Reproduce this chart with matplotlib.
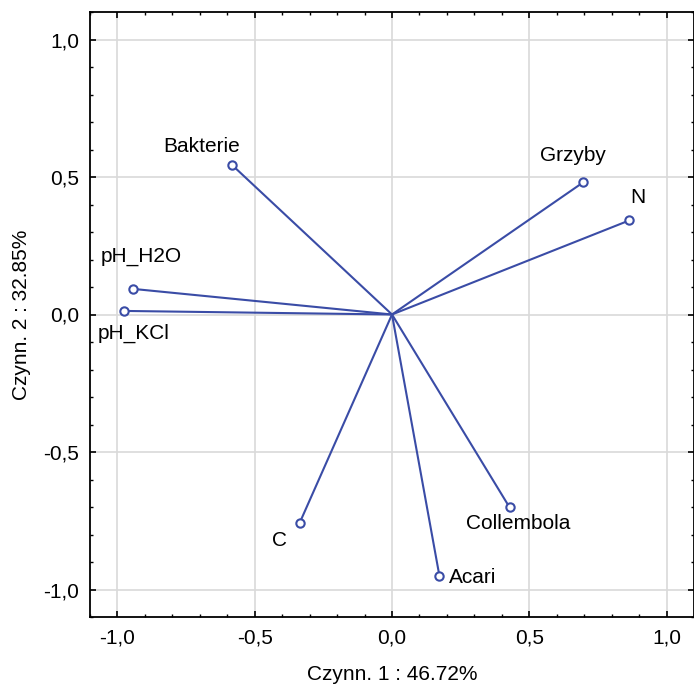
import matplotlib
matplotlib.use('Agg')
import matplotlib.pyplot as plt
from matplotlib.ticker import MultipleLocator, FuncFormatter

plt.rcParams['font.family'] = ['Liberation Sans', 'DejaVu Sans']

# loadings on the two factors
variables = ['Bakterie', 'Grzyby', 'N', 'pH_H2O', 'pH_KCl', 'C', 'Collembola', 'Acari']
fac1 = [-0.584, 0.697, 0.864, -0.942, -0.976, -0.336, 0.428, 0.173]
fac2 = [0.545, 0.481, 0.342, 0.093, 0.013, -0.757, -0.701, -0.952]

# label offsets in pixels (dx, dy)
offsets = {
    'Bakterie': (-30, 18),
    'Grzyby': (-10, 27),
    'N': (9, 23),
    'pH_H2O': (8, 32),
    'pH_KCl': (10, -22),
    'C': (-20, -18),
    'Collembola': (9, -16),
    'Acari': (33, -1),
}

col = '#3a4ca6'
fs = 15

fig = plt.figure(figsize=(6.94, 6.88), dpi=100)
ax = fig.add_axes([90 / 694, 71 / 688, 604 / 694, 605 / 688])

for name, x, y in zip(variables, fac1, fac2):
    ax.plot([0, x], [0, y], color=col, lw=1.5, zorder=3)
    ax.plot(x, y, 'o', ms=6, mfc='white', mec=col, mew=1.5, zorder=4)
    dx, dy = offsets[name]
    ax.annotate(name, (x, y), xytext=(dx, dy), textcoords='offset pixels',
                ha='center', va='center', fontsize=fs, color='black')

ax.set_xlim(-1.1, 1.1)
ax.set_ylim(-1.1, 1.1)
ax.xaxis.set_major_locator(MultipleLocator(0.5))
ax.yaxis.set_major_locator(MultipleLocator(0.5))
ax.xaxis.set_minor_locator(MultipleLocator(0.1))
ax.yaxis.set_minor_locator(MultipleLocator(0.1))
fmt = FuncFormatter(lambda v, p: f'{v:.1f}'.replace('.', ',').replace('-0,0', '0,0'))
ax.xaxis.set_major_formatter(fmt)
ax.yaxis.set_major_formatter(fmt)
ax.tick_params(which='both', direction='in', top=True, right=True, labelsize=fs, pad=8)
ax.tick_params(which='major', length=4, width=1.2)
ax.tick_params(which='minor', length=2.5, width=1)
ax.grid(True, which='major', color='#d9d9d9', lw=1.2, zorder=0)
ax.set_axisbelow(True)
for s in ax.spines.values():
    s.set_linewidth(1.3)

ax.set_xlabel('Czynn. 1 : 46.72%', fontsize=fs, labelpad=13)
ax.set_ylabel('Czynn. 2 : 32.85%', fontsize=fs, labelpad=9)

fig.savefig('out.png', dpi=100)
